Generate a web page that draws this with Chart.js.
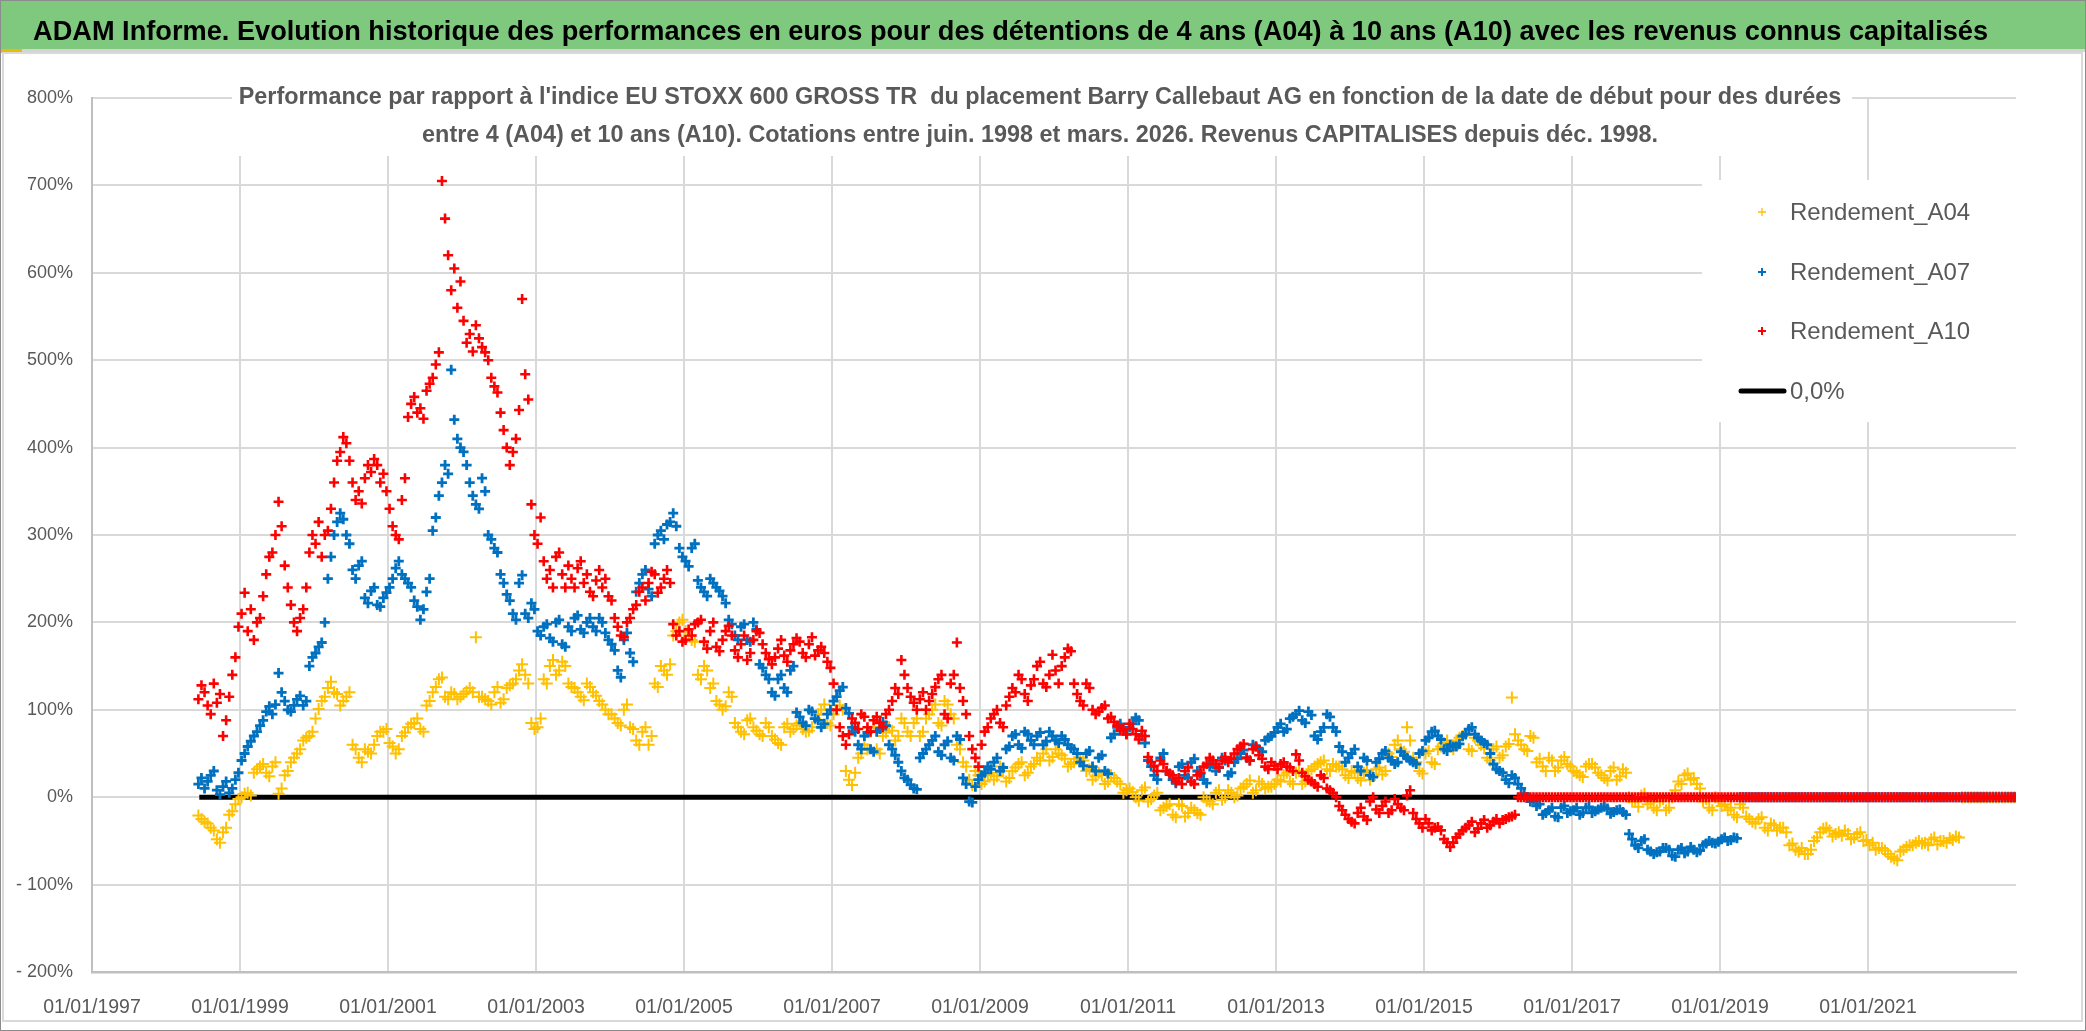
<!DOCTYPE html>
<html>
<head>
<meta charset="utf-8">
<title>ADAM Informe - Barry Callebaut AG</title>
<script src="https://cdn.jsdelivr.net/npm/chart.js@4.4.1/dist/chart.umd.min.js"></script>
<style>
  html, body { margin: 0; padding: 0; background: #fff; }
  body { width: 2086px; height: 1031px; overflow: hidden; }
  canvas { display: block; }
</style>
</head>
<body>
<canvas id="chart" width="2086" height="1031"></canvas>
<script>
// two readings per month (first / second half), first value = June 1998
const startYear = 1998;
const startMonth = 6;

// Rendement_A10 (10 ans), 0 once the period is not complete
const a10 = [
  112, 128, 120, 105, 95, 130, 108, 118, 70, 88, 115, 140, 160, 195,                                  // 1998
  210, 234, 190, 215, 180, 200, 205, 230, 255, 275, 280, 300, 338, 310, 265, 240, 220, 200, 190, 205, 215, 240, 280, 300, // 1999
  290, 315, 275, 300, 305, 330, 360, 385, 395, 412, 405, 385, 360, 340, 350, 336, 365, 380, 372, 387, 380, 360, 370, 350, // 2000
  330, 310, 300, 295, 340, 365, 435, 450, 458, 440, 445, 433, 465, 473, 480, 495, 509, 705, 662, 620, 580, 605, 560, 590, // 2001
  545, 520, 530, 510, 540, 525, 515, 509, 500, 480, 470, 463, 440, 420, 400, 380, 395, 410, 443, 570, 484, 455, 335, 300, // 2002
  290, 320, 270, 250, 260, 240, 275, 280, 255, 240, 265, 250, 240, 262, 270, 245, 255, 235, 230, 248, 260, 240, 250, 230, // 2003
  225, 205, 195, 185, 183, 200, 205, 215, 220, 235, 240, 225, 245, 258, 255, 234, 240, 250, 260, 245, 198, 185, 190, 178, // 2004
  180, 192, 185, 198, 200, 203, 178, 170, 190, 200, 172, 167, 180, 190, 196, 185, 168, 160, 175, 185, 157, 165, 180, 190, // 2005
  188, 175, 165, 158, 152, 160, 170, 180, 162, 155, 168, 175, 182, 178, 165, 160, 175, 183, 162, 168, 172, 165, 155, 148, // 2006
  130, 100, 80, 70, 60, 72, 90, 85, 78, 95, 92, 80, 75, 88, 92, 85, 80, 95, 100, 110, 125, 118, 157, 140,              // 2007
  125, 115, 108, 100, 112, 120, 100, 110, 118, 126, 135, 140, 95, 90, 130, 140, 177, 125, 110, 95, 70, 55, 45, 35,      // 2008
  60, 75, 80, 90, 95, 100, 85, 80, 105, 115, 125, 120, 140, 135, 118, 110, 128, 135, 150, 155, 130, 126, 140, 163,      // 2009
  145, 130, 150, 160, 170, 167, 130, 118, 110, 105, 130, 125, 100, 95, 98, 102, 105, 90, 92, 86, 82, 76, 78, 72,        // 2010
  84, 78, 72, 66, 76, 70, 46, 40, 36, 30, 42, 38, 30, 27, 25, 18, 22, 15, 30, 34, 18, 15, 25, 28,                      // 2011
  35, 38, 45, 42, 38, 34, 42, 46, 40, 44, 50, 55, 58, 61, 45, 42, 55, 58, 48, 44, 35, 32, 40, 36,                      // 2012
  32, 38, 40, 35, 34, 30, 49, 42, 28, 24, 20, 18, 15, 12, 25, 22, 10, 8, 5, 0, -10, -15, -20, -25,                      // 2013
  -28, -30, -18, -12, -22, -26, -5, 0, -14, -18, -10, -5, -18, -15, -2, -8, -12, -15, 2, 8, -18, -25, -30, -35,         // 2014
  -25, -30, -38, -35, -34, -38, -48, -52, -57, -52, -46, -42, -38, -35, -32, -28, -40, -36, -30, -26, -35, -32, -28, -25, // 2015
  -30, -26, -25, -23, -22, -20, 0, 0, 0, 0, 0, 0, 0, 0, 0, 0, 0, 0, 0, 0, 0, 0, 0, 0,                                  // 2016
  0, 0, 0, 0, 0, 0, 0, 0, 0, 0, 0, 0, 0, 0, 0, 0, 0, 0, 0, 0, 0, 0, 0, 0,                                              // 2017
  0, 0, 0, 0, 0, 0, 0, 0, 0, 0, 0, 0, 0, 0, 0, 0, 0, 0, 0, 0, 0, 0, 0, 0,                                              // 2018
  0, 0, 0, 0, 0, 0, 0, 0, 0, 0, 0, 0, 0, 0, 0, 0, 0, 0, 0, 0, 0, 0, 0, 0,                                              // 2019
  0, 0, 0, 0, 0, 0, 0, 0, 0, 0, 0, 0, 0, 0, 0, 0, 0, 0, 0, 0, 0, 0, 0, 0,                                              // 2020
  0, 0, 0, 0, 0, 0, 0, 0, 0, 0, 0, 0, 0, 0, 0, 0, 0, 0, 0, 0, 0, 0, 0, 0,                                              // 2021
  0, 0, 0, 0, 0, 0, 0, 0, 0, 0, 0, 0, 0, 0, 0, 0, 0, 0, 0, 0, 0, 0, 0, 0                                               // 2022
];

// Rendement_A07 (7 ans)
const a07 = [
  15, 22, 10, 18, 25, 30, 8, 3, 12, 18, 5, 10, 20, 28,                                                  // 1998
  42, 50, 58, 64, 70, 75, 82, 88, 98, 104, 95, 106, 142, 120, 110, 100, 98, 105, 112, 116, 105, 110, 150, 160, // 1999
  165, 172, 177, 200, 250, 275, 300, 315, 325, 318, 300, 290, 260, 250, 265, 270, 228, 222, 236, 240, 220, 218, 228, 234, // 2000
  240, 250, 262, 270, 255, 250, 245, 240, 225, 218, 203, 215, 235, 250, 305, 320, 345, 360, 380, 370, 489, 432, 410, 400, // 2001
  395, 380, 360, 345, 335, 330, 365, 350, 300, 295, 285, 280, 255, 245, 232, 225, 210, 203, 245, 254, 210, 205, 222, 215, // 2002
  190, 185, 195, 198, 182, 178, 200, 203, 175, 172, 195, 190, 205, 208, 192, 188, 200, 205, 195, 190, 205, 200, 188, 180, // 2003
  175, 168, 145, 137, 180, 188, 165, 155, 235, 245, 255, 260, 238, 230, 290, 300, 305, 295, 312, 315, 325, 310, 285, 275, // 2004
  270, 264, 285, 290, 248, 240, 235, 230, 250, 245, 240, 236, 230, 222, 203, 198, 185, 180, 195, 198, 180, 178, 200, 192, // 2005
  152, 148, 140, 135, 120, 116, 135, 140, 125, 120, 145, 150, 97, 92, 85, 82, 100, 98, 90, 88, 80, 84, 95, 100,         // 2006
  110, 115, 122, 126, 102, 96, 80, 75, 60, 55, 70, 74, 55, 52, 75, 78, 86, 82, 60, 55, 48, 40, 30, 22,                  // 2007
  20, 14, 10, 9, 45, 50, 55, 60, 65, 70, 52, 48, 60, 64, 45, 42, 70, 66, 22, 15, -5, -6, 12, 20,                        // 2008
  25, 28, 35, 32, 40, 45, 30, 34, 55, 58, 70, 72, 60, 56, 75, 72, 65, 60, 70, 74, 60, 64, 75, 70,                       // 2009
  65, 62, 70, 66, 60, 56, 55, 50, 40, 36, 50, 53, 35, 30, 45, 48, 30, 27, 68, 72, 80, 84, 76, 72,                       // 2010
  80, 84, 91, 88, 70, 62, 42, 35, 25, 20, 45, 50, 30, 26, 20, 16, 35, 38, 25, 22, 40, 44, 30, 27,                       // 2011
  20, 16, 35, 38, 30, 34, 45, 42, 25, 28, 40, 44, 50, 54, 45, 42, 60, 58, 55, 52, 65, 68, 70, 74,                       // 2012
  80, 84, 75, 78, 90, 92, 95, 99, 88, 85, 98, 94, 70, 66, 75, 80, 95, 92, 80, 75, 58, 52, 40, 45,                       // 2013
  50, 55, 35, 30, 45, 42, 25, 23, 40, 44, 50, 53, 45, 42, 38, 40, 52, 48, 45, 42, 40, 38, 50, 53,                       // 2014
  65, 68, 75, 76, 70, 66, 55, 53, 60, 58, 58, 61, 70, 72, 78, 80, 72, 68, 65, 62, 60, 50, 38, 32,                       // 2015
  30, 28, 20, 16, 25, 22, 15, 10, 4, 0, -5, -3, -10, -8, -20, -18, -15, -12, -22, -23, -12, -10, -18, -16,              // 2016
  -15, -12, -20, -18, -12, -11, -18, -16, -14, -12, -11, -13, -19, -17, -15, -14, -17, -20, -42, -48, -55, -58, -50, -48, // 2017
  -60, -62, -65, -63, -62, -58, -58, -60, -67, -68, -60, -58, -64, -62, -57, -60, -63, -61, -55, -53, -50, -52, -53, -51, // 2018
  -48, -46, -50, -49, -46, -47, 0, 0, 0, 0, 0, 0, 0, 0, 0, 0, 0, 0, 0, 0, 0, 0, 0, 0,                                  // 2019
  0, 0, 0, 0, 0, 0, 0, 0, 0, 0, 0, 0, 0, 0, 0, 0, 0, 0, 0, 0, 0, 0, 0, 0,                                              // 2020
  0, 0, 0, 0, 0, 0, 0, 0, 0, 0, 0, 0, 0, 0, 0, 0, 0, 0, 0, 0, 0, 0, 0, 0,                                              // 2021
  0, 0, 0, 0, 0, 0, 0, 0, 0, 0, 0, 0, 0, 0, 0, 0, 0, 0, 0, 0, 0, 0, 0, 0                                               // 2022
];

// Rendement_A04 (4 ans)
const a04 = [
  -21, -25, -28, -30, -35, -38, -48, -52, -40, -35, -20, -16, -8, -2,                                   // 1998
  0, 4, 5, 2, 28, 32, 35, 38, 28, 24, 35, 40, 4, 10, 25, 30, 40, 45, 50, 55, 65, 68, 70, 75,            // 1999
  90, 101, 110, 115, 125, 132, 120, 118, 105, 110, 115, 120, 60, 55, 45, 40, 55, 52, 50, 60, 70, 75, 75, 78, // 2000
  62, 58, 50, 55, 70, 74, 80, 84, 85, 90, 78, 75, 105, 110, 120, 126, 135, 137, 115, 112, 120, 118, 112, 115, // 2001
  118, 121, 125, 120, 183, 115, 115, 112, 110, 106, 120, 126, 108, 112, 125, 128, 130, 135, 145, 152, 140, 130, 85, 78, // 2002
  80, 90, 135, 130, 150, 157, 140, 145, 155, 150, 130, 126, 125, 120, 115, 111, 130, 126, 120, 116, 110, 106, 100, 95, // 2003
  95, 90, 85, 82, 100, 106, 80, 78, 65, 60, 75, 80, 60, 70, 130, 126, 150, 145, 140, 152, 185, 190, 200, 203, // 2004
  190, 185, 180, 178, 140, 135, 150, 145, 125, 130, 110, 106, 100, 104, 120, 115, 85, 80, 75, 72, 88, 90, 80, 76, // 2005
  72, 70, 85, 80, 70, 66, 62, 60, 80, 84, 75, 78, 82, 85, 78, 75, 76, 80, 90, 95, 100, 106, 85, 82,     // 2006
  95, 100, 105, 100, 30, 20, 14, 28, 45, 50, 60, 55, 75, 80, 55, 50, 70, 74, 80, 76, 65, 70, 90, 85,    // 2007
  75, 70, 85, 90, 70, 75, 90, 95, 100, 106, 85, 82, 110, 106, 95, 90, 60, 55, 40, 35, 20, 14, 30, 25,   // 2008
  15, 18, 25, 28, 20, 24, 35, 30, 18, 22, 30, 34, 38, 40, 25, 28, 35, 38, 45, 42, 50, 55, 42, 46,       // 2009
  55, 50, 48, 44, 35, 38, 40, 44, 45, 42, 30, 32, 20, 24, 28, 25, 15, 18, 25, 22, 18, 15, 5, 8,         // 2010
  10, 6, 0, -4, 8, 11, -5, -2, 2, 5, -15, -12, -10, -8, -20, -23, -8, -10, -22, -18, -12, -15, -18, -20, // 2011
  0, -4, -5, -8, 5, 8, -3, 0, 8, 5, 0, 2, 10, 12, 15, 19, 5, 8, 18, 15, 10, 12, 12, 15,                 // 2012
  20, 18, 25, 28, 18, 15, 28, 30, 15, 18, 30, 32, 35, 38, 40, 42, 32, 30, 38, 35, 35, 32, 25, 22,       // 2013
  30, 28, 22, 19, 28, 31, 20, 24, 32, 34, 26, 30, 50, 46, 60, 65, 55, 52, 80, 65, 45, 40, 30, 27,       // 2014
  50, 53, 40, 38, 55, 58, 62, 65, 58, 55, 65, 68, 70, 72, 55, 53, 68, 65, 60, 56, 45, 42, 55, 58,       // 2015
  45, 48, 58, 61, 114, 72, 65, 60, 55, 53, 70, 68, 40, 44, 35, 30, 45, 42, 30, 34, 42, 46, 38, 35,      // 2016
  30, 28, 25, 23, 35, 38, 38, 34, 28, 25, 22, 19, 30, 34, 20, 24, 32, 28, 0, -5, -5, -11, 2, 4,         // 2017
  -8, -5, -12, -15, -5, -2, -15, -12, 0, 8, 18, 15, 25, 27, 20, 22, 15, 10, -5, -2, -12, -15, 0, -4,    // 2018
  -10, -8, -15, -12, -20, -23, -8, -12, -22, -25, -28, -30, -25, -23, -35, -38, -30, -32, -38, -35, -35, -40, -55, -53, // 2019
  -60, -62, -58, -65, -65, -60, -50, -46, -40, -36, -35, -38, -45, -42, -40, -44, -38, -42, -48, -46, -42, -40, -50, -49, // 2020
  -55, -52, -60, -58, -58, -61, -65, -68, -70, -72, -62, -60, -57, -55, -55, -52, -50, -53, -52, -55, -48, -46, -54, -50, // 2021
  -50, -52, -47, -49, -45, -46, 0, 0, 0, 0, 0, 0, 0, 0, 0, 0, 0, 0, 0, 0, 0, 0, 0, 0                  // 2022
];

// reference line 0,0%
const zeroLine = [{ x: 1998.45, y: 0 }, { x: 2023, y: 0 }];

const xTicks = { min: 1997, max: 2023, step: 2 };
const yTicks = { min: -200, max: 800, step: 100 };

const bannerText = "ADAM Informe. Evolution historique des performances en euros pour des détentions de 4 ans (A04) à 10 ans (A10) avec les revenus connus capitalisés";
const subtitle = [
  "Performance par rapport à l'indice EU STOXX 600 GROSS TR  du placement Barry Callebaut AG en fonction de la date de début pour des durées",
  "entre 4 (A04) et 10 ans (A10). Cotations entre juin. 1998 et mars. 2026. Revenus CAPITALISES depuis déc. 1998."
];

const sansFont = '"Liberation Sans", Arial, sans-serif';
const grey = "#595959";

// half-month index -> decimal year
function toPoints(values) {
  return values.map((v, i) => ({ x: startYear + (startMonth - 1 + (i + 0.5) / 2) / 12, y: v }));
}

function fitSize(ctx, text, weight, family, width) {
  ctx.font = weight + " 100px " + family;
  return 100 * width / ctx.measureText(text).width;
}

// banner, frame, subtitle and legend box
const decor = {
  id: "decor",
  beforeDraw(chart) {
    const ctx = chart.ctx;
    const w = chart.width;
    ctx.save();
    ctx.fillStyle = "#fff";
    ctx.fillRect(0, 0, w, chart.height);
    ctx.fillStyle = "#7FC97F";
    ctx.fillRect(0, 0, w, 49);
    ctx.fillStyle = "#D4D4D4";
    ctx.fillRect(0, 49, w, 3);
    ctx.fillStyle = "#F5B800";
    ctx.fillRect(0, 49, 22, 4);
    const size = fitSize(ctx, bannerText, "bold", sansFont, 1953);
    ctx.font = "bold " + size.toFixed(1) + "px " + sansFont;
    ctx.fillStyle = "#000";
    ctx.textBaseline = "alphabetic";
    ctx.fillText(bannerText, 33, 40);
    ctx.strokeStyle = "#D9D9D9";
    ctx.lineWidth = 2;
    ctx.strokeRect(3, 53, 2079, 968);
    ctx.strokeStyle = "#8C8C8C";
    ctx.lineWidth = 1;
    ctx.strokeRect(0.5, 0.5, w - 1, chart.height - 1);
    ctx.restore();
  },
  afterDraw(chart) {
    const ctx = chart.ctx;
    ctx.save();
    // subtitle sits on a white box over the top of the grid
    ctx.fillStyle = "#fff";
    ctx.fillRect(232, 62, 1620, 94);
    const size = fitSize(ctx, subtitle[0], "bold", sansFont, 1605);
    ctx.font = "bold " + size.toFixed(1) + "px " + sansFont;
    ctx.fillStyle = grey;
    ctx.textAlign = "center";
    ctx.textBaseline = "alphabetic";
    ctx.fillText(subtitle[0], 1040, 104);
    ctx.fillText(subtitle[1], 1040, 142);

    // legend
    ctx.fillStyle = "#fff";
    ctx.fillRect(1702, 180, 314, 242);
    const rows = [212, 272, 331, 391];
    ctx.textAlign = "left";
    ctx.textBaseline = "middle";
    ctx.font = "24px " + sansFont;
    chart.data.datasets.forEach((ds, i) => {
      const y = rows[i];
      if (ds.showLine) {
        ctx.strokeStyle = ds.borderColor;
        ctx.lineWidth = 5;
        ctx.lineCap = "round";
        ctx.beginPath();
        ctx.moveTo(1741, y);
        ctx.lineTo(1784, y);
        ctx.stroke();
      } else {
        ctx.strokeStyle = ds.pointBorderColor;
        ctx.lineWidth = i === 0 ? 1.3 : 2;
        ctx.lineCap = "butt";
        ctx.beginPath();
        ctx.moveTo(1758, y);
        ctx.lineTo(1766, y);
        ctx.moveTo(1762, y - 4);
        ctx.lineTo(1762, y + 4);
        ctx.stroke();
      }
      ctx.fillStyle = grey;
      ctx.fillText(ds.label, 1790, y + 1);
    });
    ctx.restore();
  }
};

new Chart(document.getElementById("chart"), {
  type: "scatter",
  data: {
    datasets: [
      {
        label: "Rendement_A04",
        data: toPoints(a04),
        pointStyle: "cross",
        pointRadius: 6,
        pointBorderWidth: 2,
        pointBorderColor: "#FFC000",
        borderColor: "#FFC000",
        order: 2
      },
      {
        label: "Rendement_A07",
        data: toPoints(a07),
        pointStyle: "cross",
        pointRadius: 5,
        pointBorderWidth: 2.8,
        pointBorderColor: "#0070C0",
        borderColor: "#0070C0",
        order: 1
      },
      {
        label: "Rendement_A10",
        data: toPoints(a10),
        pointStyle: "cross",
        pointRadius: 5,
        pointBorderWidth: 2.6,
        pointBorderColor: "#FF0000",
        borderColor: "#FF0000",
        order: 0
      },
      {
        label: "0,0%",
        data: zeroLine,
        showLine: true,
        borderColor: "#000",
        borderWidth: 5,
        pointRadius: 0,
        order: 3
      }
    ]
  },
  options: {
    responsive: false,
    animation: false,
    events: [],
    layout: { padding: { top: 98, right: 70, bottom: 0, left: 0 } },
    plugins: {
      legend: { display: false },
      tooltip: { enabled: false },
      title: { display: false }
    },
    scales: {
      x: {
        type: "linear",
        min: xTicks.min,
        max: xTicks.max,
        afterFit: (scale) => { scale.height = 59; },
        border: { color: "#BFBFBF", width: 2.5 },
        grid: {
          drawTicks: false,
          lineWidth: 2,
          color: (c) => (c.tick && c.tick.value === xTicks.max ? "rgba(0,0,0,0)" : "#D9D9D9")
        },
        ticks: {
          stepSize: xTicks.step,
          padding: 24,
          maxRotation: 0,
          autoSkip: false,
          color: grey,
          font: { family: sansFont, size: 19.5 },
          callback: (v) => (v === xTicks.max ? "" : "01/01/" + v)
        }
      },
      y: {
        min: yTicks.min,
        max: yTicks.max,
        afterFit: (scale) => { scale.width = 92; },
        border: { color: "#BFBFBF", width: 2 },
        grid: { drawTicks: false, lineWidth: 2, color: "#D9D9D9" },
        ticks: {
          stepSize: yTicks.step,
          padding: 19,
          color: grey,
          font: { family: sansFont, size: 18 },
          callback: (v) => (v < 0 ? "- " + (-v) + "%" : v + "%")
        }
      }
    }
  },
  plugins: [decor]
});
</script>
</body>
</html>
